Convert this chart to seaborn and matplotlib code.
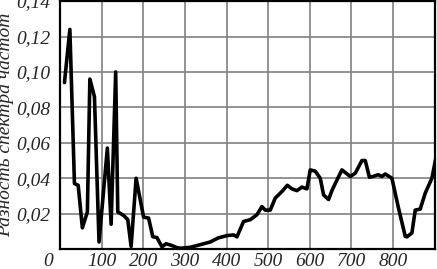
import pandas as pd
import matplotlib
matplotlib.use("Agg")
import matplotlib.pyplot as plt
from matplotlib.transforms import ScaledTranslation
import seaborn as sns

freq = [11, 24, 35, 44, 54, 66, 72, 83, 94, 114, 123, 134, 139, 153, 163, 171,
        183, 201, 213, 223, 233, 245, 255, 269, 281, 289, 313, 337, 361, 380,
        401, 417, 425, 441, 457, 473, 485, 493, 505, 517, 533, 546, 557, 569,
        581, 593, 601, 613, 625, 633, 645, 653, 661, 677, 697, 709, 725, 733,
        743, 752, 764, 773, 781, 797, 812, 829, 833, 845, 853, 865, 877, 893,
        903]
diff = [0.094, 0.124, 0.037, 0.036, 0.012, 0.021, 0.096, 0.086, 0.004, 0.057,
        0.014, 0.100, 0.021, 0.019, 0.0166, 0.0015, 0.040, 0.018, 0.0175,
        0.007, 0.0065, 0.0013, 0.003, 0.002, 0.0008, 0.0005, 0.001, 0.0025,
        0.004, 0.0063, 0.0076, 0.008, 0.0069, 0.0156, 0.0166, 0.0194, 0.024,
        0.022, 0.022, 0.0288, 0.0325, 0.036, 0.034, 0.033, 0.035, 0.034,
        0.0447, 0.044, 0.040, 0.0306, 0.028, 0.033, 0.037, 0.0447, 0.041,
        0.0428, 0.050, 0.050, 0.0406, 0.041, 0.042, 0.041, 0.0424, 0.040,
        0.024, 0.0072, 0.0069, 0.0091, 0.022, 0.0226, 0.0316, 0.040, 0.052]

xticks = [0, 100, 200, 300, 400, 500, 600, 700, 800]
yticks = [0.02, 0.04, 0.06, 0.08, 0.10, 0.12, 0.14]
ylabel = "Разность спектра частот"

df = pd.DataFrame({"f": freq, "d": diff})

sns.set_style("white")
plt.rcParams["font.family"] = ["Liberation Serif", "DejaVu Serif"]

fig = plt.figure(figsize=(4.37, 2.69), dpi=100)
ax = fig.add_axes([0.137, 0.074, 0.858, 0.922])
sns.lineplot(data=df, x="f", y="d", ax=ax, color="black", linewidth=2.6,
             estimator=None, sort=False)

ax.set_xlim(0, 900)
ax.set_ylim(0, 0.14)
ax.set_xticks(xticks)
ax.set_yticks(yticks)
ax.set_xticklabels([str(v) for v in xticks], fontsize=14, style="italic")
ax.set_yticklabels([f"{v:.2f}".replace(".", ",") for v in yticks],
                   fontsize=14, style="italic")
ax.tick_params(length=0)
ax.tick_params(axis="x", pad=3)
ax.tick_params(axis="y", pad=7)
lbl = ax.get_xticklabels()[0]
lbl.set_transform(lbl.get_transform() +
                  ScaledTranslation(-0.12, 0, fig.dpi_scale_trans))

ax.grid(True, color="#808080", linewidth=1.2)
ax.set_axisbelow(True)
for s in ax.spines.values():
    s.set_color("black")
    s.set_linewidth(1.6)

ax.set_xlabel("")
ax.set_ylabel(ylabel, fontsize=14, style="italic")
ax.yaxis.set_label_coords(-0.122, 0.5)

fig.savefig("out.png", dpi=100)
